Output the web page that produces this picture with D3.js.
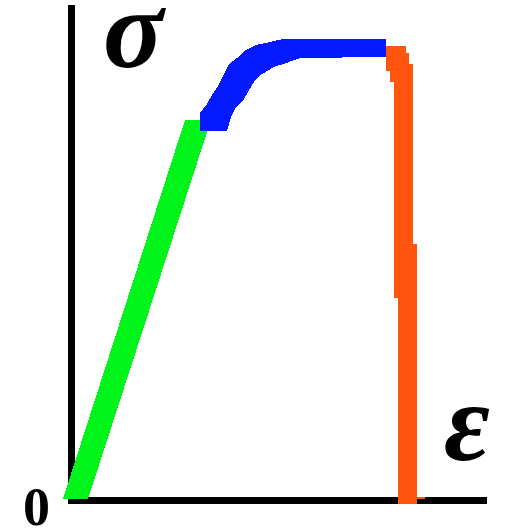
<!DOCTYPE html>
<html>
<head>
<meta charset="utf-8">
<script src="https://cdn.jsdelivr.net/npm/d3@7"></script>
<style>
  html, body { margin: 0; padding: 0; background: #fff; }
  svg { display: block; }
</style>
</head>
<body>
<svg id="chart" width="509" height="528"></svg>
<script>
// Schematic stress–strain diagram (arbitrary units 0–100 on both axes).
// Each stage is a thick hand-drawn band, given as its outline (strain, stress).

// Elastic stage (green)
const elasticStrain = [-2.05, 27.32, 33.57, 3.97];
const elasticStress = [0.30, 76.79, 76.79, 0.30];

// Yield / hardening stage (blue): upper edge then lower edge back
const plasticStrain = [30.93, 30.93, 32.61, 33.81, 35.26, 36.46, 37.91, 39.83, 42.00, 44.40, 47.77, 50.90, 75.69,
                       75.69, 54.99, 52.35, 48.74, 45.85, 43.92, 42.48, 41.28, 39.59, 38.39, 37.42];
const plasticStress = [74.57, 78.20, 80.02, 81.84, 83.65, 85.67, 88.09, 89.30, 90.92, 91.93, 92.53, 93.14, 93.14,
                       89.51, 89.30, 88.49, 87.49, 86.08, 84.46, 82.44, 80.63, 79.42, 77.40, 74.57];

// Fracture drop (orange)
const fractureStrain = [75.69, 75.69, 76.65, 76.65, 77.62, 77.62, 78.58, 78.58, 83.15, 83.15, 85.08, 85.08, 83.15,
                        83.15, 82.19, 82.19, 81.23, 81.23, 80.51, 80.51];
const fractureStress = [91.72, 86.68, 86.68, 84.46, 84.46, 40.87, 40.87, -0.71, -0.71, 0.30, 0.30, 0.71, 0.71,
                        51.77, 51.77, 88.09, 88.09, 90.31, 90.31, 91.72];

const axisLabels = { y: "σ", x: "ε", origin: "0" };
const segmentColors = ["#00f41a", "#0519ff", "#ff550e"];

const svg = d3.select("#chart");
const x = d3.scaleLinear().domain([0, 100]).range([71.5, 487]);
const y = d3.scaleLinear().domain([0, 100]).range([500.5, 5]);

// axes (no ticks)
svg.append("line")
  .attr("x1", x(0)).attr("x2", x(0))
  .attr("y1", y(100)).attr("y2", y(0) + 3.5)
  .attr("stroke", "#000").attr("stroke-width", 7.5)
  .attr("shape-rendering", "crispEdges");
svg.append("line")
  .attr("x1", x(0) - 3.5).attr("x2", x(100))
  .attr("y1", y(0)).attr("y2", y(0))
  .attr("stroke", "#000").attr("stroke-width", 7.5)
  .attr("shape-rendering", "crispEdges");

const zip = (a, b) => a.map((v, i) => [v, b[i]]);
const bands = [
  zip(elasticStrain, elasticStress),
  zip(plasticStrain, plasticStress),
  zip(fractureStrain, fractureStress)
];

const outline = d3.line().x(d => x(d[0])).y(d => y(d[1])).curve(d3.curveLinearClosed);
bands.forEach((pts, i) => {
  svg.append("path")
    .attr("d", outline(pts))
    .attr("fill", segmentColors[i])
    .attr("stroke", "none")
    .attr("shape-rendering", "crispEdges");
});

// labels
const serif = "Liberation Serif, Times New Roman, serif";
svg.append("text")
  .attr("x", 103).attr("y", 67)
  .attr("font-family", serif)
  .attr("font-style", "italic").attr("font-weight", "bold")
  .attr("font-size", 112)
  .text(axisLabels.y);
svg.append("text")
  .attr("x", 444).attr("y", 460)
  .attr("font-family", serif)
  .attr("font-style", "italic").attr("font-weight", "bold")
  .attr("font-size", 112)
  .text(axisLabels.x);
svg.append("text")
  .attr("x", 23).attr("y", 525)
  .attr("font-family", serif)
  .attr("font-weight", "bold")
  .attr("font-size", 54)
  .text(axisLabels.origin);
</script>
</body>
</html>
